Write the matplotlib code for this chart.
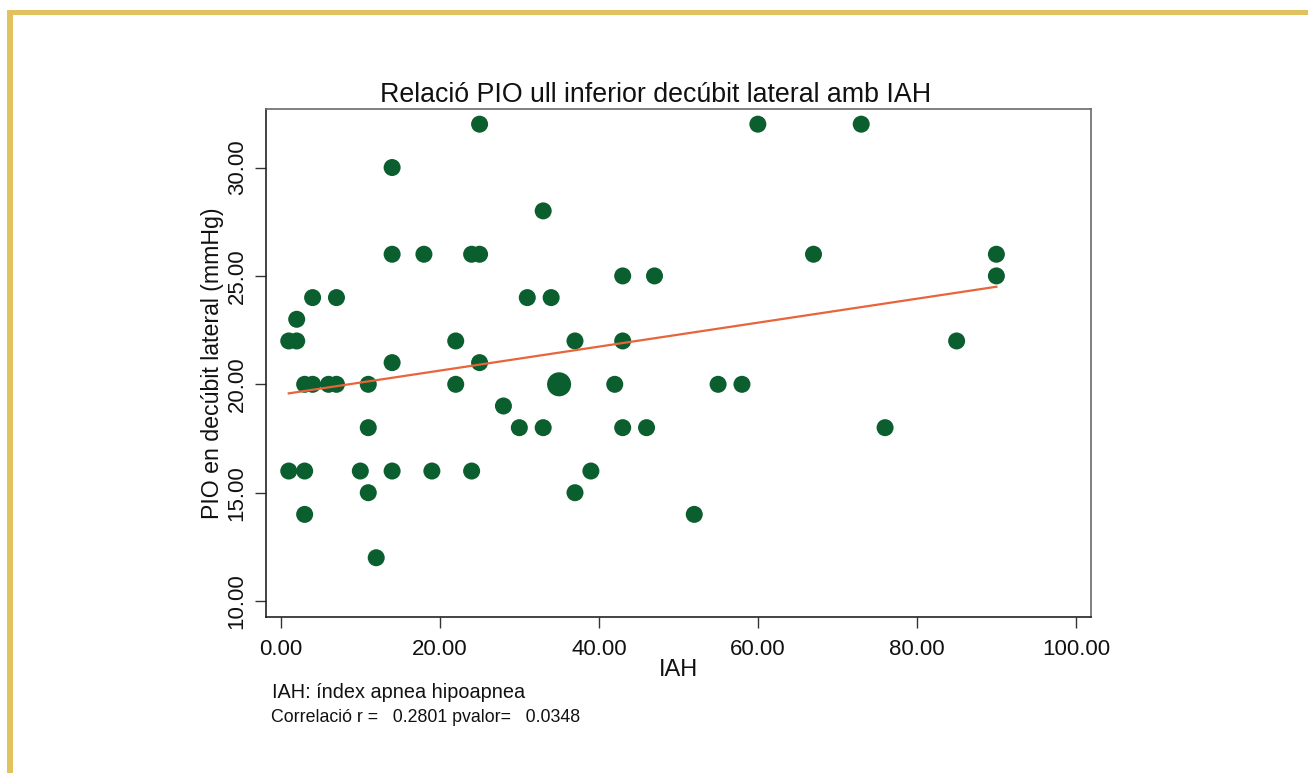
import numpy as np
import pandas as pd
import matplotlib
matplotlib.use("Agg")
import matplotlib.pyplot as plt
from matplotlib.patches import Rectangle

iah = [25, 60, 73,
       14,
       33,
       14, 18, 24, 25, 67, 90,
       43, 47, 90,
       4, 7, 31, 34,
       2,
       1, 2, 22, 37, 43, 85,
       14, 25,
       3, 4, 6, 7, 11, 22, 35, 35, 42, 55, 58,
       28,
       11, 30, 33, 43, 46, 76,
       1, 3, 10, 14, 19, 24, 39,
       11, 37,
       3, 52,
       12]
pio = [32, 32, 32,
       30,
       28,
       26, 26, 26, 26, 26, 26,
       25, 25, 25,
       24, 24, 24, 24,
       23,
       22, 22, 22, 22, 22, 22,
       21, 21,
       20, 20, 20, 20, 20, 20, 20, 20, 20, 20, 20,
       19,
       18, 18, 18, 18, 18, 18,
       16, 16, 16, 16, 16, 16, 16,
       15, 15,
       14, 14,
       12]

x_ticks = [0, 20, 40, 60, 80, 100]
y_ticks = [10, 15, 20, 25, 30]

title = "Relació PIO ull inferior decúbit lateral amb IAH"
xlabel = "IAH"
ylabel = "PIO en decúbit lateral (mmHg)"
note1 = "IAH: índex apnea hipoapnea"
note2 = "Correlació r =   0.2801 pvalor=   0.0348"

plt.rcParams['font.family'] = ['Liberation Sans', 'DejaVu Sans']

W, H = 1308, 773
fig = plt.figure(figsize=(W / 100, H / 100), dpi=100)
fig.patch.set_facecolor('white')

# golden frame (left and top edges)
gold = '#E2C25E'
fig.add_artist(Rectangle((7 / W, 0), 5.5 / W, 1 - 9.5 / H, transform=fig.transFigure,
                         facecolor=gold, edgecolor='none'))
fig.add_artist(Rectangle((7 / W, 1 - 15 / H), 1 - 7 / W, 5 / H, transform=fig.transFigure,
                         facecolor=gold, edgecolor='none'))

ax = fig.add_axes([265.7 / W, 1 - 616.7 / H, (1091 - 265.7) / W, (616.7 - 109) / H])

df = pd.DataFrame({'iah': iah, 'pio': pio})
grp = df.groupby(['iah', 'pio']).size().reset_index(name='n')
ax.scatter(grp['iah'], grp['pio'], s=150 * grp['n'], color='#0B5E2E',
           edgecolors='none', zorder=3)

# linear fit
b, a = np.polyfit(df['iah'], df['pio'], 1)
xs = np.array([df['iah'].min(), df['iah'].max()])
ax.plot(xs, a + b * xs, color='#E8643A', lw=1.6, zorder=4)

ax.set_xlim(-1.9, 101.9)
ax.set_ylim(9.28, 32.7)
ax.set_xticks(x_ticks)
ax.set_xticklabels([f"{v:.2f}" for v in x_ticks])
ax.set_yticks(y_ticks)
ax.set_yticklabels([f"{v:.2f}" for v in y_ticks])
ax.tick_params(axis='both', direction='out', length=8, width=1.0, color='#333333',
               labelsize=16, labelcolor='#111111')
ax.tick_params(axis='x', pad=8)
ax.tick_params(axis='y', pad=5)
for lab in ax.get_yticklabels():
    lab.set_rotation(90)
    lab.set_va('center')

for side in ['left', 'bottom']:
    ax.spines[side].set_color('#222222')
    ax.spines[side].set_linewidth(1.2)
for side in ['top', 'right']:
    ax.spines[side].set_color('#6a6a6a')
    ax.spines[side].set_linewidth(1.2)

ax.set_xlabel(xlabel, fontsize=17, color='#111111', labelpad=-1)
ax.set_ylabel(ylabel, fontsize=16.7, color='#111111', labelpad=2)

fig.text(656 / W, 1 - 95 / H, title, ha='center', va='center', fontsize=19.3, color='#111111')
fig.text(272 / W, 1 - 693 / H, note1, ha='left', va='center', fontsize=14.3, color='#111111')
fig.text(271 / W, 1 - 718 / H, note2, ha='left', va='center', fontsize=12.8, color='#111111')

fig.savefig('out.png', dpi=100)
